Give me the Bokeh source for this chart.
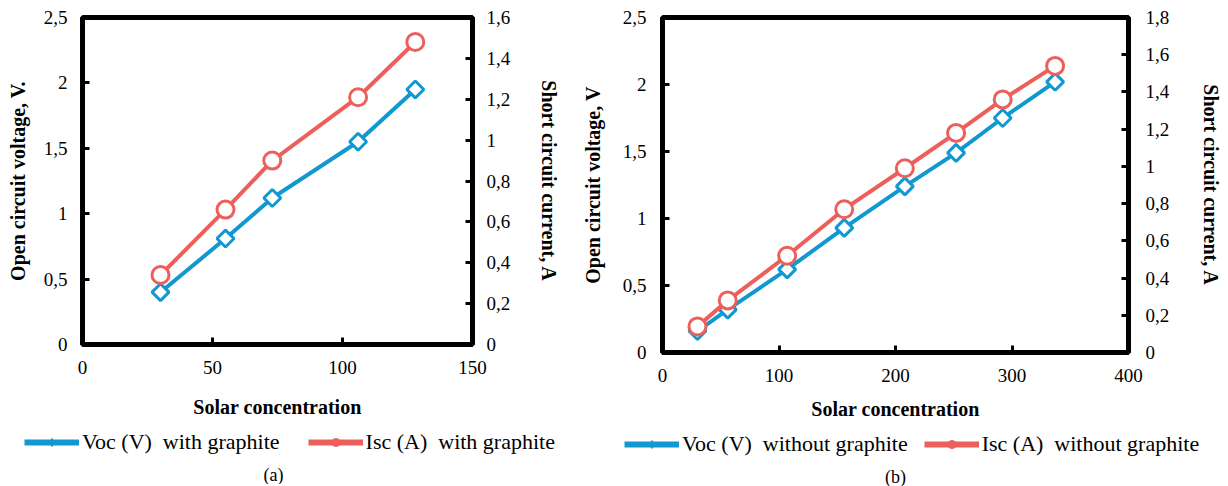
from bokeh.plotting import figure
from bokeh.models import (Range1d, LinearAxis, FixedTicker, CustomJSTickFormatter,
                          Legend, LegendItem, Label, ColumnDataSource)
from bokeh.layouts import row, column
from bokeh.embed import file_html
from bokeh.resources import INLINE
import numpy as np

# ---- data (a): with graphite ----
conc_a = [30, 55, 73, 106, 128]
voc_a = [0.40, 0.81, 1.12, 1.55, 1.95]
isc_a = [0.34, 0.66, 0.90, 1.21, 1.48]

# ---- data (b): without graphite ----
conc_b = [30, 56, 107, 156, 208, 252, 292, 337]
voc_b = [0.16, 0.32, 0.62, 0.93, 1.24, 1.49, 1.75, 2.02]
isc_b = [0.14, 0.28, 0.52, 0.77, 0.99, 1.18, 1.36, 1.54]

BLUE = "#1198D0"
RED = "#EC5F5B"
FONT = "Liberation Serif"

fmt_js = "const v = Math.round(tick*10)/10; return v.toString().replace('.', ',');"


def make_fig(conc, voc, isc, xmax, xticks, imax, iticks, ylabel,
             fw, fh, bl, br, bb, cfg):
    p = figure(frame_width=fw, frame_height=fh, output_backend="svg",
               toolbar_location=None,
               x_range=Range1d(0, xmax), y_range=Range1d(0, 2.5),
               min_border_left=bl, min_border_right=br, min_border_top=17,
               min_border_bottom=bb)
    p.frame_align = False
    p.extra_y_ranges = {"i": Range1d(0, imax)}
    p.xgrid.visible = False
    p.ygrid.visible = False
    p.outline_line_color = "black"
    p.outline_line_width = 5
    p.outline_line_alpha = 1

    raxis = LinearAxis(y_range_name="i")
    p.add_layout(raxis, "right")

    p.xaxis.ticker = FixedTicker(ticks=xticks)
    p.yaxis[0].ticker = FixedTicker(ticks=[0, 0.5, 1, 1.5, 2, 2.5])
    raxis.ticker = FixedTicker(ticks=iticks)

    for ax in [p.xaxis[0], p.yaxis[0], raxis]:
        ax.formatter = CustomJSTickFormatter(code=fmt_js)
        ax.axis_line_width = 5
        ax.axis_line_color = "black"
        ax.major_tick_in = 7
        ax.major_tick_out = 0
        ax.major_tick_line_width = 3
        ax.minor_tick_line_color = None
        ax.major_label_text_font = FONT
        ax.major_label_text_font_size = "19px"
        ax.major_label_text_color = "black"
        ax.axis_label_text_font = FONT
        ax.axis_label_text_font_size = "20px"
        ax.axis_label_text_font_style = "bold"
        ax.axis_label_text_color = "black"

    p.xaxis.axis_label = "Solar concentration"
    p.xaxis.major_label_standoff = 16
    p.xaxis.axis_label_standoff = cfg["xs"]
    p.yaxis[0].axis_label = ylabel
    p.yaxis[0].major_label_standoff = cfg["lms"]
    p.yaxis[0].axis_label_standoff = cfg["ls"]
    raxis.axis_label = "Short circuit current, A"
    raxis.major_label_standoff = cfg["rms"]
    raxis.axis_label_standoff = cfg["rs"]

    src = ColumnDataSource(dict(x=conc, v=voc, i=isc))
    p.line("x", "v", source=src, color=BLUE, line_width=4)
    p.scatter("x", "v", source=src, marker="square", angle=np.pi / 4, size=12,
              line_color=BLUE, line_width=3, fill_color="white")
    p.line("x", "i", source=src, color=RED, line_width=4, y_range_name="i")
    p.scatter("x", "i", source=src, marker="circle", size=17,
              line_color=RED, line_width=3, fill_color="white", y_range_name="i")
    return p


def make_legend(width, height, conc, voc, isc, labels, caption, sp, loc,
                cap_x, cap_y):
    q = figure(width=width, height=height, output_backend="svg",
               toolbar_location=None, x_range=Range1d(0, width),
               y_range=Range1d(0, height), min_border=0,
               min_border_left=0, min_border_right=0, min_border_top=0,
               min_border_bottom=0)
    q.frame_align = False
    q.axis.visible = False
    q.xgrid.visible = False
    q.ygrid.visible = False
    q.outline_line_color = None
    # hidden proxies of the series, used only for the legend glyphs
    src = ColumnDataSource(dict(x=conc, v=voc, i=isc))
    lv = q.line("x", "v", source=src, color=BLUE, line_width=6, visible=False)
    dv = q.scatter("x", "v", source=src, marker="diamond", size=17, color=BLUE,
                   visible=False)
    li = q.line("x", "i", source=src, color=RED, line_width=6, visible=False)
    di = q.scatter("x", "i", source=src, marker="circle", size=13, color=RED,
                   visible=False)
    leg = Legend(items=[LegendItem(label=labels[0], renderers=[lv, dv]),
                        LegendItem(label=labels[1], renderers=[li, di])],
                 orientation="horizontal", location=loc,
                 border_line_color=None, background_fill_alpha=0,
                 label_text_font=FONT, label_text_font_size="22px",
                 label_text_color="black",
                 glyph_width=55, glyph_height=20, spacing=sp, padding=0,
                 margin=0, label_standoff=3)
    q.add_layout(leg, "center")
    cap = Label(x=cap_x, y=cap_y, text=caption,
                text_align="center", text_baseline="middle", text_font=FONT,
                text_font_size="18px", text_color="black")
    q.add_layout(cap)
    return q


p1 = make_fig(conc_a, voc_a, isc_a, 150, [0, 50, 100, 150], 1.6,
              [0, 0.2, 0.4, 0.6, 0.8, 1.0, 1.2, 1.4, 1.6],
              "Open circuit voltage, V.",
              390, 327, 82, 98, 76,
              dict(xs=19, lms=15, ls=12, rms=14, rs=25))
p2 = make_fig(conc_b, voc_b, isc_b, 400, [0, 100, 200, 300, 400], 1.8,
              [0, 0.2, 0.4, 0.6, 0.8, 1.0, 1.2, 1.4, 1.6, 1.8],
              "Open circuit voltage, V",
              466, 335, 92, 100, 68,
              dict(xs=13, lms=16, ls=16, rms=17, rs=28))

l1 = make_legend(570, 64, conc_a, voc_a, isc_a,
                 ["Voc (V)  with graphite", "Isc (A)  with graphite"],
                 "(a)", 28, (24, 29), 273, 10)
l2 = make_legend(658, 64, conc_b, voc_b, isc_b,
                 ["Voc (V)  without graphite", "Isc (A)  without graphite"],
                 "(b)", 16, (54, 29), 325, 10)

layout = row(column(p1, l1), column(p2, l2))
open("out.html", "w").write(file_html(layout, INLINE))
